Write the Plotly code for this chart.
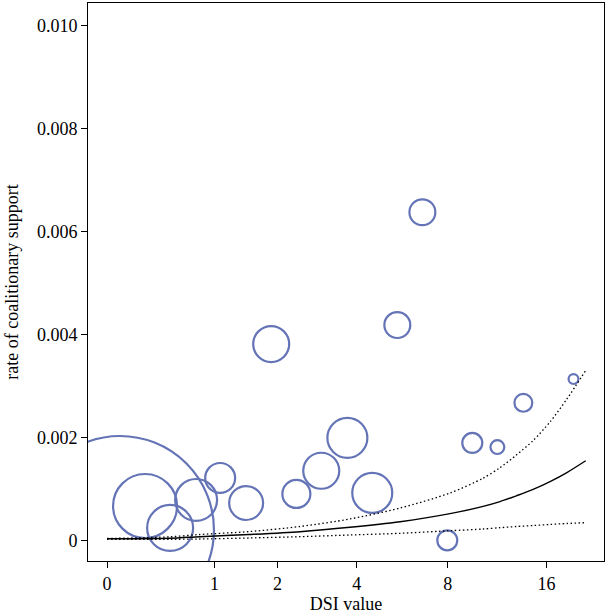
import numpy as np
import plotly.graph_objects as go

# ---- data ----
dsi = [0.087, 0.278, 0.502, 0.776, 1.074, 1.452, 1.882, 5.50, 3.71, 2.98,
       2.39, 4.53, 6.64, 9.54, 11.39, 13.65, 19.24, 7.97]
rate = [0.00020, 0.000666, 0.00024, 0.000783, 0.00121, 0.000724, 0.00381,
        0.00418, 0.00199, 0.00135, 0.00090, 0.00092, 0.00637, 0.00189,
        0.00181, 0.00267, 0.00313, 0.0]
weight = [2209, 256, 132, 110, 56, 72, 81, 42, 100, 81, 49, 100, 42, 25,
          12, 20, 6, 25]

fit_dsi = [0, 0.5, 0.82, 1.5, 2.47, 3.79, 5.62, 8.13, 10.3, 11.6, 13.0,
           14.6, 16.4, 18.4, 20.9]
fit_mid = [0.000029, 0.000039, 0.000070, 0.000113, 0.000167, 0.000252,
           0.000361, 0.000517, 0.000658, 0.000751, 0.000864, 0.000988,
           0.001140, 0.001315, 0.001544]
fit_hi = [0.000035, 0.000068, 0.000113, 0.000169, 0.000268, 0.000414,
          0.000627, 0.000918, 0.001206, 0.001410, 0.001656, 0.001936,
          0.002299, 0.002744, 0.003297]
fit_lo = [0.000016, 0.000019, 0.000025, 0.000045, 0.000070, 0.000103,
          0.000136, 0.000186, 0.000219, 0.000245, 0.000268, 0.000287,
          0.000307, 0.000326, 0.000342]

x_ticks = [0, 1, 2, 4, 8, 16]
y_ticks = [0, 0.002, 0.004, 0.006, 0.008, 0.010]
y_ticktext = ["0", "0.002", "0.004", "0.006", "0.008", "0.010"]


def tr(v):
    return np.log2(np.asarray(v, dtype=float) + 1)


FONT = "Liberation Serif, Times New Roman, serif"
BLUE = "#6474b6"

fig = go.Figure()
fig.add_trace(go.Scatter(
    x=tr(dsi), y=rate, mode="markers",
    marker=dict(symbol="circle-open", size=weight, sizemode="area",
                sizeref=1 / 8, color=BLUE, opacity=1,
                line=dict(width=2.2, color=BLUE)),
    showlegend=False, hoverinfo="skip"))
for ys, dash, w in [(fit_hi, "1.5px,2.5px", 1.3), (fit_lo, "1.5px,2.5px", 1.3), (fit_mid, "solid", 1.4)]:
    fig.add_trace(go.Scatter(
        x=tr(fit_dsi), y=ys, mode="lines",
        line=dict(color="black", width=w, dash=dash, shape="spline", smoothing=0.8),
        showlegend=False, hoverinfo="skip"))

axis_common = dict(showline=True, linecolor="black", linewidth=1, mirror=True,
                   ticks="outside", ticklen=6, tickwidth=1, tickcolor="black",
                   showgrid=False, zeroline=False,
                   tickfont=dict(family=FONT, size=18, color="black"))

fig.update_xaxes(range=[-0.177, 4.623], tickvals=tr(x_ticks),
                 ticktext=[str(t) for t in x_ticks],
                 title=dict(text="DSI value", font=dict(family=FONT, size=18, color="black"),
                            standoff=4),
                 **axis_common)
fig.update_yaxes(range=[-0.000402, 0.010433], tickvals=y_ticks, ticktext=y_ticktext,
                 title=dict(text="rate of coalitionary support",
                            font=dict(family=FONT, size=18, color="black"), standoff=13),
                 **axis_common)

fig.update_layout(width=608, height=616, margin=dict(l=88, r=4, t=3, b=55, autoexpand=False),
                  paper_bgcolor="white", plot_bgcolor="white",
                  font=dict(family=FONT, size=18, color="black"))
fig.write_html("out.html", config={"displayModeBar": False},
               post_script="document.body.style.margin='0';document.body.style.overflow='hidden';")
